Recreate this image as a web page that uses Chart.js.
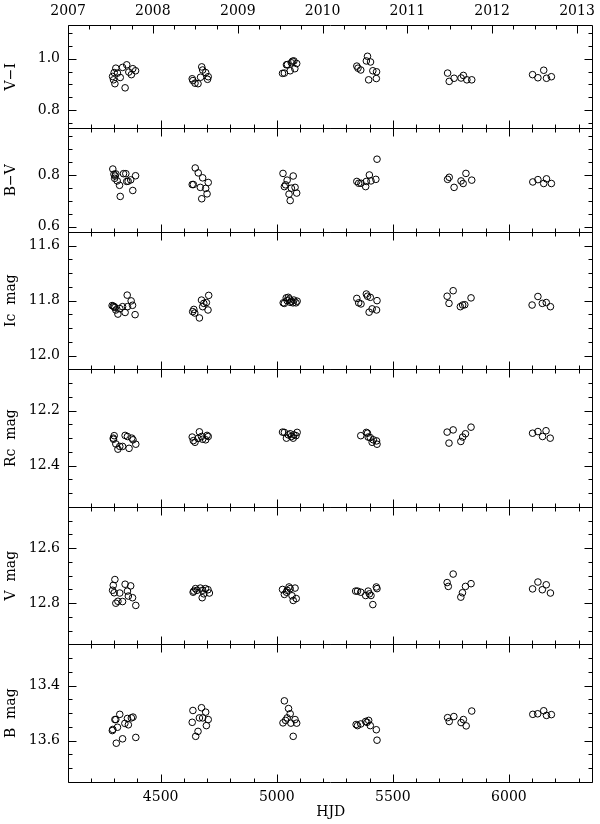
<!DOCTYPE html>
<html>
<head>
<meta charset="utf-8">
<script src="https://cdn.jsdelivr.net/npm/chart.js@4.4.0/dist/chart.umd.min.js"></script>
<style>
    html, body { margin: 0; padding: 0; background: #fff; }
    #wrap { width: 600px; height: 824px; }
</style>
</head>
<body>
<div id="wrap"><canvas id="lc" width="600" height="824"></canvas></div>
<script>
// Axis ticks
const hjdTicks = [4500, 5000, 5500, 6000];
const yearLabels = ['2007', '2008', '2009', '2010', '2011', '2012', '2013'];
const yearHJD = [4101.5, 4466.5, 4832.5, 5197.5, 5562.5, 5927.5, 6293.5];

const viTicks = [0.8, 1.0];
const bvTicks = [0.6, 0.8];
const icTicks = [11.6, 11.8, 12.0];
const rcTicks = [12.2, 12.4];
const vTicks = [12.6, 12.8];
const bTicks = [13.4, 13.6];

// V-I
const viHJD = [4293, 4297, 4300, 4303, 4307, 4314, 4326, 4336, 4347, 4354, 4363, 4374, 4380, 4392,
    4636, 4639, 4648, 4661, 4672, 4677, 4681, 4694, 4702, 4705,
    5025, 5033, 5042, 5046, 5058, 5063, 5068, 5074, 5078, 5086,
    5345, 5350, 5362, 5386, 5391, 5396, 5404, 5414, 5429, 5430,
    5736, 5743, 5764, 5794, 5804, 5819, 5840,
    6102, 6125, 6150, 6162, 6183];
const viVal = [0.931, 0.918, 0.946, 0.903, 0.963, 0.944, 0.927, 0.966, 0.887, 0.976, 0.948, 0.938, 0.961, 0.953,
    0.922, 0.915, 0.905, 0.903, 0.928, 0.968, 0.956, 0.946, 0.920, 0.930,
    0.943, 0.944, 0.976, 0.977, 0.953, 0.984, 0.990, 0.991, 0.961, 0.981,
    0.971, 0.963, 0.956, 0.991, 1.009, 0.918, 0.987, 0.953, 0.923, 0.949,
    0.944, 0.912, 0.924, 0.925, 0.935, 0.918, 0.918,
    0.938, 0.926, 0.955, 0.924, 0.930];

// B-V
const bvHJD = [4294, 4299, 4302, 4304, 4307, 4313, 4323, 4326, 4340, 4350, 4354, 4360, 4371, 4380, 4392,
    4636, 4641, 4649, 4662, 4671, 4677, 4681, 4694, 4700, 4705,
    5027, 5033, 5038, 5045, 5053, 5058, 5063, 5071, 5079, 5086,
    5345, 5353, 5363, 5383, 5386, 5399, 5406, 5427, 5432,
    5736, 5743, 5764, 5794, 5803, 5815, 5840,
    6103, 6125, 6150, 6162, 6183];
const bvVal = [0.823, 0.803, 0.787, 0.796, 0.804, 0.777, 0.760, 0.717, 0.805, 0.805, 0.775, 0.776, 0.781, 0.740, 0.797,
    0.763, 0.763, 0.827, 0.808, 0.752, 0.708, 0.789, 0.748, 0.727, 0.771,
    0.806, 0.755, 0.762, 0.780, 0.726, 0.701, 0.749, 0.796, 0.752, 0.730,
    0.775, 0.768, 0.768, 0.755, 0.775, 0.800, 0.777, 0.783, 0.861,
    0.783, 0.791, 0.752, 0.777, 0.767, 0.806, 0.780,
    0.773, 0.782, 0.767, 0.785, 0.767];

// Ic
const icHJD = [4291, 4296, 4300, 4303, 4307, 4316, 4324, 4336, 4347, 4356, 4357, 4373, 4379, 4390,
    4638, 4643, 4647, 4667, 4676, 4681, 4686, 4697, 4704, 4707,
    5028, 5033, 5041, 5045, 5050, 5055, 5058, 5063, 5070, 5074, 5083, 5088,
    5345, 5353, 5363, 5386, 5391, 5398, 5403, 5411, 5430, 5432,
    5734, 5742, 5760, 5791, 5801, 5810, 5837,
    6100, 6125, 6144, 6161, 6179];
const icMag = [11.818, 11.820, 11.822, 11.825, 11.834, 11.849, 11.829, 11.822, 11.843, 11.780, 11.822, 11.801, 11.817, 11.851,
    11.840, 11.832, 11.845, 11.863, 11.798, 11.822, 11.810, 11.807, 11.834, 11.781,
    11.808, 11.810, 11.790, 11.800, 11.788, 11.794, 11.806, 11.802, 11.808, 11.798, 11.808, 11.802,
    11.792, 11.808, 11.812, 11.776, 11.784, 11.842, 11.788, 11.830, 11.834, 11.800,
    11.784, 11.810, 11.764, 11.822, 11.816, 11.815, 11.790,
    11.816, 11.785, 11.810, 11.807, 11.822];

// Rc
const rcHJD = [4296, 4297, 4300, 4307, 4316, 4324, 4336, 4347, 4357, 4364, 4376, 4381, 4393,
    4636, 4641, 4648, 4661, 4667, 4676, 4681, 4694, 4700, 4705,
    5025, 5033, 5042, 5050, 5058, 5063, 5071, 5074, 5083, 5088,
    5362, 5386, 5391, 5394, 5403, 5411, 5416, 5430, 5432,
    5734, 5742, 5760, 5793, 5801, 5813, 5837,
    6102, 6125, 6145, 6160, 6178];
const rcMag = [12.300, 12.304, 12.291, 12.321, 12.340, 12.330, 12.330, 12.290, 12.294, 12.337, 12.300, 12.306, 12.322,
    12.296, 12.309, 12.315, 12.301, 12.277, 12.294, 12.304, 12.306, 12.290, 12.294,
    12.278, 12.279, 12.300, 12.288, 12.284, 12.294, 12.300, 12.288, 12.291, 12.279,
    12.291, 12.279, 12.282, 12.296, 12.298, 12.315, 12.306, 12.310, 12.322,
    12.278, 12.318, 12.270, 12.312, 12.296, 12.284, 12.260,
    12.282, 12.276, 12.294, 12.273, 12.300];

// V
const vHJD = [4293, 4296, 4300, 4303, 4307, 4316, 4324, 4336, 4347, 4357, 4361, 4371, 4379, 4393,
    4640, 4643, 4650, 4657, 4671, 4679, 4681, 4686, 4693, 4704, 4710,
    5025, 5033, 5042, 5045, 5053, 5058, 5066, 5071, 5079, 5084,
    5340, 5348, 5362, 5383, 5394, 5399, 5406, 5414, 5429, 5432,
    5734, 5739, 5760, 5793, 5800, 5813, 5837,
    6102, 6125, 6144, 6161, 6179];
const vMag = [12.753, 12.735, 12.762, 12.714, 12.800, 12.793, 12.763, 12.794, 12.731, 12.756, 12.774, 12.737, 12.780, 12.808,
    12.760, 12.756, 12.747, 12.753, 12.745, 12.780, 12.753, 12.766, 12.747, 12.751, 12.763,
    12.750, 12.768, 12.760, 12.753, 12.741, 12.747, 12.773, 12.790, 12.745, 12.783,
    12.756, 12.756, 12.760, 12.772, 12.756, 12.766, 12.772, 12.805, 12.741, 12.747,
    12.725, 12.739, 12.694, 12.778, 12.762, 12.739, 12.729,
    12.748, 12.723, 12.751, 12.733, 12.763];

// B
const bHJD = [4292, 4294, 4303, 4307, 4309, 4314, 4324, 4336, 4346, 4357, 4361, 4374, 4381, 4393,
    4636, 4639, 4651, 4661, 4667, 4676, 4681, 4694, 4697, 4705,
    5027, 5033, 5038, 5045, 5051, 5058, 5061, 5071, 5079, 5086,
    5342, 5348, 5362, 5383, 5389, 5396, 5403, 5429, 5432,
    5736, 5743, 5763, 5794, 5804, 5816, 5840,
    6103, 6124, 6150, 6162, 6183];
const bMag = [13.563, 13.559, 13.523, 13.523, 13.609, 13.551, 13.504, 13.593, 13.537, 13.519, 13.542, 13.517, 13.514, 13.588,
    13.533, 13.490, 13.584, 13.566, 13.517, 13.480, 13.517, 13.496, 13.545, 13.523,
    13.535, 13.455, 13.526, 13.517, 13.483, 13.502, 13.536, 13.584, 13.523, 13.536,
    13.541, 13.545, 13.539, 13.530, 13.533, 13.526, 13.545, 13.560, 13.598,
    13.516, 13.530, 13.512, 13.534, 13.523, 13.546, 13.492,
    13.504, 13.502, 13.491, 13.508, 13.505];

const X_MIN = 4101;
const X_MAX = 6364;

// panels, top to bottom
const panels = [
    { id: 'yVI', title: 'V\u2212I', hjd: viHJD, vals: viVal, ticks: viTicks, min: 0.73, max: 1.13, reverse: false, weight: 103.4 },
    { id: 'yBV', title: 'B\u2212V', hjd: bvHJD, vals: bvVal, ticks: bvTicks, min: 0.58, max: 0.98, reverse: false, weight: 103.4 },
    { id: 'yIc', title: 'Ic  mag', hjd: icHJD, vals: icMag, ticks: icTicks, min: 11.55, max: 12.05, reverse: true, weight: 137.5 },
    { id: 'yRc', title: 'Rc  mag', hjd: rcHJD, vals: rcMag, ticks: rcTicks, min: 12.05, max: 12.55, reverse: true, weight: 137.5 },
    { id: 'yV', title: 'V  mag', hjd: vHJD, vals: vMag, ticks: vTicks, min: 12.45, max: 12.95, reverse: true, weight: 137.5 },
    { id: 'yB', title: 'B  mag', hjd: bHJD, vals: bMag, ticks: bTicks, min: 13.25, max: 13.75, reverse: true, weight: 137.5 }
];

Chart.defaults.font.family = "'DejaVu Serif', serif";
Chart.defaults.font.size = 14;
Chart.defaults.color = '#000';

const MAJ = 8, MIN = 4;

// frames with inward ticks around every panel
const framePlugin = {
    id: 'frames',
    afterDatasetsDraw(chart) {
        const { ctx, chartArea: a, scales } = chart;
        const x = scales.x;
        const L = Math.round(a.left) + 0.5;
        const R = Math.round(a.right) - 0.5;
        ctx.save();
        ctx.strokeStyle = '#000';
        ctx.lineWidth = 1;
        ctx.beginPath();
        panels.forEach((p, i) => {
            const s = scales[p.id];
            const T = Math.round(s.top) + 0.5;
            const B = Math.round(s.bottom) + 0.5;
            ctx.rect(L, T, R - L, B - T);
            // magnitude / colour ticks every 0.05
            for (let k = Math.ceil(p.min / 0.05 - 1e-6); k * 0.05 <= p.max + 1e-6; k++) {
                const v = k * 0.05;
                const len = Math.abs(v / 0.2 - Math.round(v / 0.2)) < 1e-6 ? MAJ : MIN;
                const y = Math.round(s.getPixelForValue(v)) + 0.5;
                ctx.moveTo(L, y); ctx.lineTo(L + len, y);
                ctx.moveTo(R, y); ctx.lineTo(R - len, y);
            }
            // HJD ticks every 100
            for (let v = Math.ceil(X_MIN / 100) * 100; v <= X_MAX; v += 100) {
                const len = v % 500 === 0 ? MAJ : MIN;
                const px = Math.round(x.getPixelForValue(v)) + 0.5;
                ctx.moveTo(px, B); ctx.lineTo(px, B - len);
                if (i > 0) { ctx.moveTo(px, T); ctx.lineTo(px, T + len); }
            }
            // calendar years on top of first panel
            if (i === 0) {
                yearHJD.forEach((v, j) => {
                    if (v >= X_MIN) {
                        const px = Math.round(x.getPixelForValue(v)) + 0.5;
                        ctx.moveTo(px, T); ctx.lineTo(px, T + MAJ);
                    }
                    if (j < yearHJD.length - 1) {
                        const step = (yearHJD[j + 1] - v) / 4;
                        for (let q = 1; q < 4; q++) {
                            const qx = Math.round(x.getPixelForValue(v + q * step)) + 0.5;
                            ctx.moveTo(qx, T); ctx.lineTo(qx, T + MIN);
                        }
                    }
                });
            }
        });
        ctx.stroke();
        ctx.restore();
    }
};

const scales = {
    x: {
        type: 'linear', position: 'bottom', min: X_MIN, max: X_MAX,
        grid: { display: false, drawTicks: false }, border: { display: false },
        afterBuildTicks: s => { s.ticks = hjdTicks.map(v => ({ value: v })); },
        afterFit: s => { s.height = 42; },
        ticks: { autoSkip: false, maxRotation: 0, padding: 7, callback: v => String(v) },
        title: { display: true, text: 'HJD', padding: { top: 0, bottom: 3 } }
    },
    x2: {
        type: 'linear', position: 'top', min: X_MIN, max: X_MAX,
        grid: { display: false, drawTicks: false }, border: { display: false },
        afterBuildTicks: s => { s.ticks = yearHJD.map(v => ({ value: v })); },
        afterFit: s => { s.height = 25; },
        ticks: { autoSkip: false, maxRotation: 0, padding: 5, callback: (v, i) => yearLabels[i] }
    }
};

// stacked left axes are laid out last-declared on top, so declare bottom panel first
panels.slice().reverse().forEach(p => {
    scales[p.id] = {
        type: 'linear', position: 'left', stack: 'lc', stackWeight: p.weight,
        min: p.min, max: p.max, reverse: p.reverse,
        grid: { display: false, drawTicks: false }, border: { display: false },
        afterBuildTicks: s => { s.ticks = p.ticks.map(v => ({ value: v })); },
        afterFit: s => { s.width = 68; },
        ticks: { autoSkip: false, padding: 8, callback: v => Number(v).toFixed(1) },
        title: { display: true, text: p.title, padding: { top: 3, bottom: 0 } }
    };
});

const datasets = panels.map(p => ({
    label: p.title,
    data: p.hjd.map((h, i) => ({ x: h, y: p.vals[i] })),
    xAxisID: 'x',
    yAxisID: p.id,
    showLine: false,
    pointStyle: 'circle',
    pointRadius: 3.3,
    pointBorderWidth: 1,
    pointBorderColor: '#000',
    pointBackgroundColor: 'rgba(0,0,0,0)'
}));

new Chart(document.getElementById('lc'), {
    type: 'scatter',
    data: { datasets: datasets },
    options: {
        responsive: false,
        animation: false,
        layout: { padding: { left: 0, right: 4, top: 0, bottom: 0 } },
        plugins: { legend: { display: false }, tooltip: { enabled: false } },
        scales: scales
    },
    plugins: [framePlugin]
});
</script>
</body>
</html>
